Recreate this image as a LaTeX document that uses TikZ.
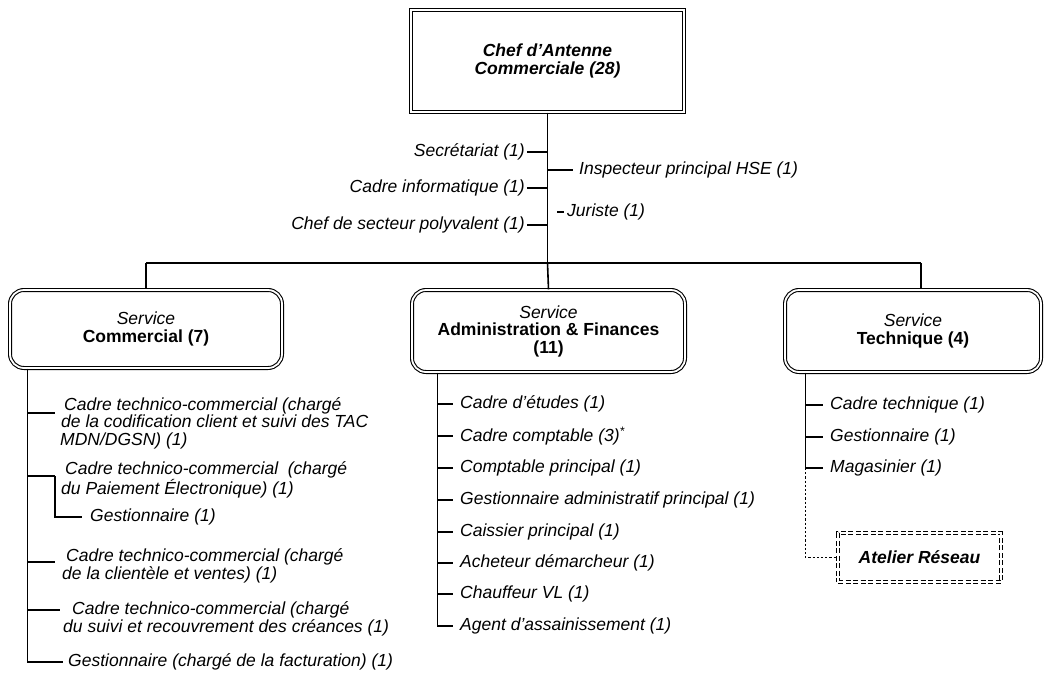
\documentclass[tikz,border=0pt]{standalone}
\usepackage{fontspec}
\setmainfont{Liberation Sans}
\newcommand\orgsize{\fontsize{17.5}{17.5}\selectfont}
\begin{document}
\begin{tikzpicture}[x=1pt,y=-1pt,
  txt/.style={inner sep=0pt, font=\orgsize\itshape, align=left},
  conn/.style={line width=1.6pt},
  tick/.style={line width=1.3pt},
  dbl/.style={draw, line width=1.1pt, double=white, double distance=1.8pt},
  headbox/.style={dbl, align=center, inner sep=0pt, font=\orgsize\bfseries\itshape},
  svcbox/.style={dbl, rounded corners=14pt, align=center, inner sep=0pt, font=\orgsize},
  workshop/.style={dbl, dash pattern=on 5pt off 2.5pt, align=center, inner sep=0pt, font=\orgsize\bfseries\itshape},
  dotline/.style={line width=1.8pt, dash pattern=on 2.2pt off 2pt},
]
\useasboundingbox (0,0) rectangle (1046,675);
\fill[white] (0,0) rectangle (1046,675);

% head of the antenna
\node[headbox, minimum width=273pt, minimum height=102pt] (chef) at (547.5,61) {Chef d'Antenne\\Commerciale (28)};

% the three services
\node[svcbox, minimum width=272pt, minimum height=78pt] (com) at (146,329) {\textit{Service}\\\textbf{Commercial (7)}};
\node[svcbox, minimum width=273pt, minimum height=82pt] (adm) at (548.5,331) {\textit{Service}\\\textbf{Administration \& Finances}\\\textbf{(11)}};
\node[svcbox, minimum width=256pt, minimum height=82pt] (tec) at (913,331) {\textit{Service}\\\textbf{Technique (4)}};

% main tree
\coordinate (jM) at (chef.south |- 0,263);
\coordinate (jL) at (com.north |- jM);
\coordinate (jR) at ([xshift=8pt]tec.north |- jM);
\draw[conn] (chef.south) -- (jM);
\draw[conn] (jL) -- (jR);
\draw[conn] (jL) -- (com.north);
\draw[conn] (jM) -- (adm.north);
\draw[conn] (jR) -- (jR |- tec.north);

% staff attached to the head
\node[txt, anchor=east] (sec) at (525,152) {Secrétariat (1)};
\node[txt, anchor=east] (inf) at (525,188) {Cadre informatique (1)};
\node[txt, anchor=east] (pol) at (525,225) {Chef de secteur polyvalent (1)};
\node[txt, anchor=west] (hse) at (579,170) {Inspecteur principal HSE (1)};
\node[txt, anchor=west] (jur) at (567,212) {Juriste (1)};
\foreach \n in {sec,inf,pol}
  \draw[tick] ([xshift=2pt]\n.east) -- (\n.east -| chef.south);
\draw[tick] (hse.west -| chef.south) -- ([xshift=-6pt]hse.west);
\draw[tick] ([xshift=-10pt]jur.west) -- ([xshift=-3pt]jur.west);

% Service Commercial
\coordinate (cv) at ([xshift=18pt]com.south west);
\node[txt, anchor=west] (c1) at (60,423) {\hspace*{4pt}Cadre technico-commercial (chargé\\\hspace*{1pt}de la codification client et suivi des TAC\\MDN/DGSN) (1)};
\node[txt, anchor=west] (c2) at (61,480) {\hspace*{4pt}Cadre technico-commercial\ \ (chargé\\du Paiement Électronique) (1)};
\node[txt, anchor=west] (g1) at (90,517) {Gestionnaire (1)};
\node[txt, anchor=west] (c3) at (62,566) {\hspace*{4pt}Cadre technico-commercial (chargé\\de la clientèle et ventes) (1)};
\node[txt, anchor=west] (c4) at (63,619) {\hspace*{9pt}Cadre technico-commercial (chargé\\du suivi et recouvrement des créances (1)};
\node[txt, anchor=west] (c5) at (68,662) {Gestionnaire (chargé de la facturation) (1)};
\path ([xshift=-5pt,yshift=10pt]c1.west) coordinate (k1)
      ([xshift=-6pt,yshift=4pt]c2.west) coordinate (k2)
      ([xshift=-7pt,yshift=4pt]c3.west) coordinate (k3)
      ([xshift=-3pt,yshift=9pt]c4.west) coordinate (k4);
\foreach \k in {k1,k2,k3,k4}
  \draw[tick] (cv |- \k) -- (\k);
\draw[tick] (k2) |- ([xshift=-8pt]g1.west);
\draw[conn] (cv) -- (cv |- c5.west) -- ([xshift=-5pt]c5.west);

% Service Administration & Finances
\coordinate (av) at ([xshift=26pt]adm.south west);
\node[txt, anchor=west] (a1) at (460,404) {Cadre d'études (1)};
\node[txt, anchor=west] (a2) at (460,436) {Cadre comptable (3)\textsuperscript{*}};
\node[txt, anchor=west] (a3) at (460,468) {Comptable principal (1)};
\node[txt, anchor=west] (a4) at (460,500) {Gestionnaire administratif principal (1)};
\node[txt, anchor=west] (a5) at (460,532) {Caissier principal (1)};
\node[txt, anchor=west] (a6) at (460,563) {Acheteur démarcheur (1)};
\node[txt, anchor=west] (a7) at (460,594) {Chauffeur VL (1)};
\node[txt, anchor=west] (a8) at (460,626) {Agent d'assainissement (1)};
\foreach \n in {a1,a2,a3,a4,a5,a6,a7}
  \draw[tick] (av |- \n.west) -- ([xshift=-7pt]\n.west);
\draw[conn] (av) -- (av |- a8.west) -- ([xshift=-7pt]a8.west);

% Service Technique
\coordinate (tv) at ([xshift=21pt]tec.south west);
\node[txt, anchor=west] (t1) at (830,405) {Cadre technique (1)};
\node[txt, anchor=west] (t2) at (830,437) {Gestionnaire (1)};
\node[txt, anchor=west] (t3) at (830,468) {Magasinier (1)};
\foreach \n in {t1,t2,t3}
  \draw[tick] (tv |- \n.west) -- ([xshift=-7pt]\n.west);
\draw[conn] (tv) -- (tv |- t3.west);
\node[workshop, minimum width=163pt, minimum height=49pt] (atl) at (919.5,557.5) {Atelier Réseau};
\draw[dotline] (tv |- t3.west) -- (tv |- atl.west) -- (atl.west);
\end{tikzpicture}
\end{document}
